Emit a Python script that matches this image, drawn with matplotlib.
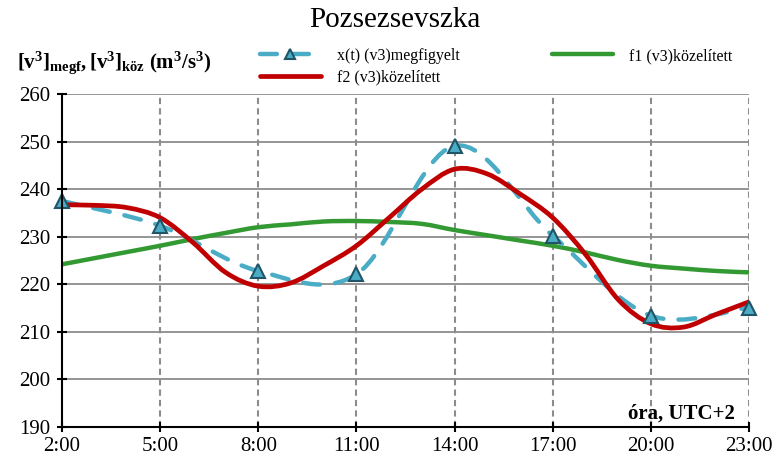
import numpy as np
import matplotlib
matplotlib.use("Agg")
import matplotlib.pyplot as plt
from matplotlib.path import Path
from matplotlib.patches import PathPatch

plt.rcParams['font.family'] = ['Liberation Serif', 'DejaVu Serif']
plt.rcParams['mathtext.fontset'] = 'custom'
plt.rcParams['mathtext.rm'] = 'Liberation Serif'
plt.rcParams['mathtext.bf'] = 'Liberation Serif:bold'
plt.rcParams['mathtext.it'] = 'Liberation Serif:italic'

# hours of the day (UTC+2)
hours = [2, 3, 4, 5, 6, 7, 8, 9, 10, 11, 12, 13, 14, 15, 16, 17, 18, 19, 20, 21, 22, 23]
obs_hours = [2, 5, 8, 11, 14, 17, 20, 23]

# observed values and the two approximations
x_obs = [237.5, 232.3, 222.8, 222.1, 249.1, 230.2, 213.4, 215.1]
f1 = [224.2, 225.5, 226.8, 228.1, 229.5, 230.8, 232.0, 232.6, 233.2, 233.3, 233.1,
      232.7, 231.4, 230.3, 229.2, 228.1, 226.7, 225.1, 223.9, 223.3, 222.8, 222.5]
f2 = [236.7, 236.6, 236.1, 234.0, 228.8, 222.5, 219.6, 220.3, 223.9, 228.1, 234.0,
      240.0, 244.2, 243.2, 239.0, 234.0, 226.3, 216.8, 211.7, 211.0, 213.7, 216.3]

tick_hours = [2, 5, 8, 11, 14, 17, 20, 23]
tick_labels = ["2:00", "5:00", "8:00", "11:00", "14:00", "17:00", "20:00", "23:00"]

blue = '#4BACC6'
green = '#339933'
red = '#C00000'
grid_col = '#8c8c8c'


def smooth_path(xs, ys):
    # spreadsheet-style smoothed line: cubic bezier through every point
    pts = np.column_stack([xs, ys]).astype(float)
    n = len(pts)
    verts = [pts[0]]
    codes = [Path.MOVETO]
    for i in range(n - 1):
        p0 = pts[i - 1] if i > 0 else pts[i]
        p1 = pts[i]
        p2 = pts[i + 1]
        p3 = pts[i + 2] if i + 2 < n else pts[i + 1]
        c1 = p1 + (p2 - p0) / 6
        c2 = p2 - (p3 - p1) / 6
        verts += [c1, c2, p2]
        codes += [Path.CURVE4] * 3
    return Path(verts, codes)


fig = plt.figure(figsize=(7.78, 4.66), dpi=100)
ax = fig.add_axes([62 / 778, 1 - 427 / 466, 687 / 778, 333 / 466])

ax.set_xlim(2, 23)
ax.set_ylim(190, 260)
ax.set_yticks(np.arange(190, 261, 10))
ax.set_xticks(tick_hours)
ax.set_xticklabels(tick_labels)

# grid: solid horizontal, dashed vertical
for yv in range(200, 261, 10):
    ax.axhline(yv, color=grid_col, lw=1.3, zorder=1)
for xv in tick_hours[1:]:
    ax.axvline(xv, color=grid_col, lw=1.5, ls=(0, (3, 2)), zorder=1)

ax.add_patch(PathPatch(smooth_path(hours, f1), fill=False, edgecolor=green, lw=3.2,
                       capstyle='round', zorder=3))
ax.add_patch(PathPatch(smooth_path(obs_hours, x_obs), fill=False, edgecolor=blue, lw=3.2,
                       ls=(0, (3.8, 3.4)), capstyle='round', zorder=4))
ax.plot(obs_hours, x_obs, ls='none', marker='^', ms=10, mfc=blue,
        mec='#1F5566', mew=1.5, zorder=6, clip_on=False)
ax.add_patch(PathPatch(smooth_path(hours, f2), fill=False, edgecolor=red, lw=3.4,
                       capstyle='round', zorder=5))

for s in ['top', 'right']:
    ax.spines[s].set_visible(False)
for s in ['left', 'bottom']:
    ax.spines[s].set_linewidth(1.5)
    ax.spines[s].set_zorder(7)
ax.tick_params(direction='inout', length=7, width=1.5, labelsize=15, pad=4)
ax.tick_params(axis='y', pad=5)

ax.text(0.98, 0.025, "óra, UTC+2", transform=ax.transAxes, ha='right', va='baseline',
        fontsize=15, fontweight='bold', zorder=8)

fig.text(395 / 778, 1 - 20 / 466, "Pozsezsevszka", ha='center', va='center', fontsize=21)
fig.text(17 / 778, 1 - 63 / 466, r'$\mathbf{[v^3]_{megf}, [v^3]_{köz}\ (m^3/s^3)}$',
         ha='left', va='center', fontsize=15)

# legend handles
h_x, = ax.plot([], [], color=blue, lw=3.2, dashes=(3.8, 3.4), dash_capstyle='round',
               marker='^', ms=7, mfc=blue, mec='#1F5566', mew=1.5)
h_f2, = ax.plot([], [], color=red, lw=3.4, solid_capstyle='round')
h_f1, = ax.plot([], [], color=green, lw=3.2, solid_capstyle='round')
fig.legend([h_x, h_f2, h_f1],
           ["x(t) (v3)megfigyelt", "f2 (v3)közelített", "f1 (v3)közelített"],
           ncol=2, loc='upper left', bbox_to_anchor=(260 / 778, 1 - 48 / 466),
           frameon=False, fontsize=11.5, handlelength=3.8, handletextpad=1.0,
           columnspacing=5.8, labelspacing=0.35, borderaxespad=0, borderpad=0)

fig.savefig("out.png", dpi=100)
